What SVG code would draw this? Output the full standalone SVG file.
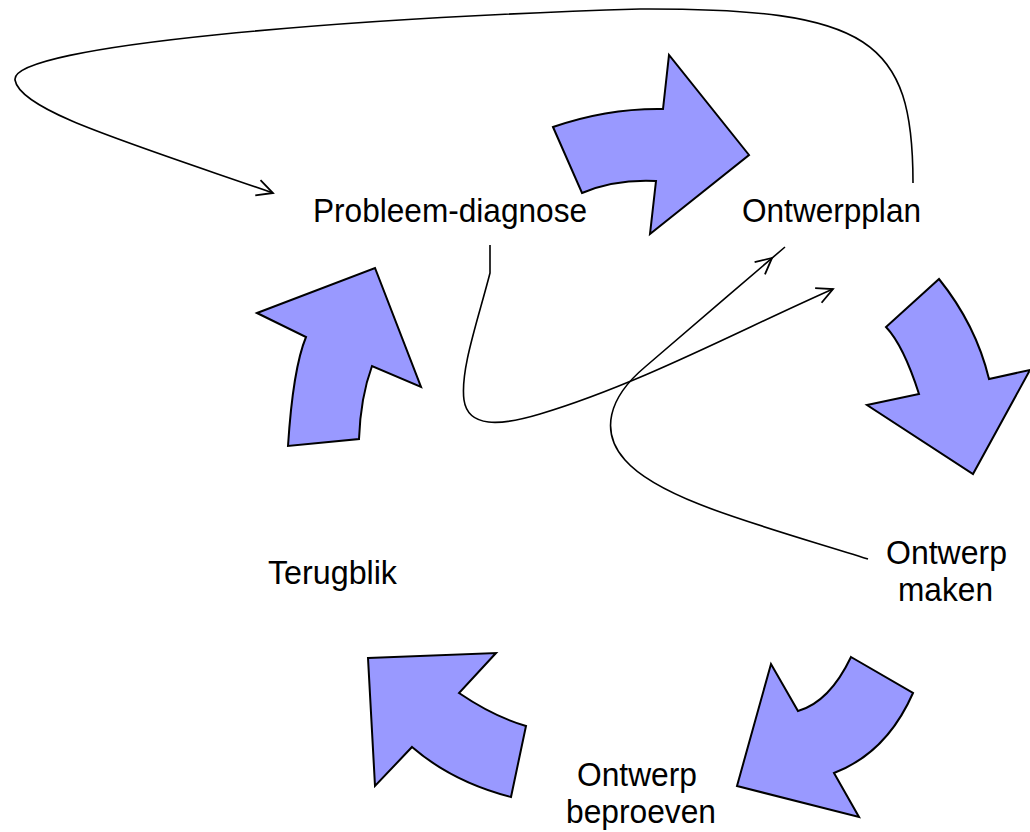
<svg xmlns="http://www.w3.org/2000/svg" width="1030" height="832" viewBox="0 0 1030 832">
<style>
.arr{fill:#9999ff;stroke:#000;stroke-width:2;stroke-linejoin:miter}
.con{fill:none;stroke:#000;stroke-width:1.6}
.lbl{font-family:"Liberation Sans",Arial,sans-serif;font-size:34px;fill:#000;text-anchor:middle}
</style>
<defs>
<marker id="open" markerUnits="userSpaceOnUse" markerWidth="40" markerHeight="40" refX="16" refY="8" orient="auto" overflow="visible">
<path d="M0,0 L16,8 L0,16" fill="none" stroke="#000" stroke-width="1.8"/>
</marker>
<marker id="openback" markerUnits="userSpaceOnUse" markerWidth="40" markerHeight="40" refX="33" refY="8" orient="auto" overflow="visible">
<path d="M0,0 L16,8 L0,16" fill="none" stroke="#000" stroke-width="1.8"/>
</marker>
</defs>
<rect width="1030" height="832" fill="#fff"/>
<g id="shapes">
<path id="arrow-top" class="arr" d="M553,127 Q608,108 663,109 L669,55 L749,155 L650,234 L656,181 Q615,179 582,193 Z"/>
<path id="arrow-right" class="arr" d="M939,279 Q976,325 989,379 L1030,370 L973,474 L867,405 L919,394 Q903.5,345.5 886,327 Z"/>
<path id="arrow-bottomright" class="arr" d="M851,657 L913,693 Q886.5,753 834,773 L859,817 L737,786 L771,664 L798,711 Q829.5,702 851,657 Z"/>
<path id="arrow-bottomleft" class="arr" d="M368,658 L496,653 L459,693 Q493.5,716.5 526,726 L511,797 Q452.5,782 412,747 L375,786 Z"/>
<path id="arrow-left" class="arr" d="M257,313 L375,268 L421,387 L372,366 Q360.5,397.5 359,439 L288,446 Q293,368.5 306,337 Z"/>
</g>
<g id="connectors">
<path class="con" d="M913,183 C913,40 870,8 640,9 C350,18 10,45 15,80 C20,110 120,140 273,193" marker-end="url(#open)"/>
<path class="con" d="M490,245 L490,273 C478,320 460,370 464,400 C468,428 500,426 540,414 C640,384 740,330 833,289" marker-end="url(#open)"/>
<path class="con" d="M868,559 C760,525 660,500 625,460 C600,432 608,398 645,367 C685,333 740,285 785,247" marker-end="url(#openback)"/>
</g>
<g id="node-probleemdiagnose"><text class="lbl" x="450" y="222" textLength="274" lengthAdjust="spacingAndGlyphs">Probleem-diagnose</text></g>
<g id="node-ontwerpplan"><text class="lbl" x="831.5" y="222" textLength="179" lengthAdjust="spacingAndGlyphs">Ontwerpplan</text></g>
<g id="node-terugblik"><text class="lbl" x="332.5" y="584" textLength="129" lengthAdjust="spacingAndGlyphs">Terugblik</text></g>
<g id="node-ontwerpmaken"><text class="lbl" x="946.5" y="564" textLength="121" lengthAdjust="spacingAndGlyphs">Ontwerp</text><text class="lbl" x="945.5" y="601" textLength="95" lengthAdjust="spacingAndGlyphs">maken</text></g>
<g id="node-ontwerpbeproeven"><text class="lbl" x="637" y="786" textLength="120" lengthAdjust="spacingAndGlyphs">Ontwerp</text><text class="lbl" x="641" y="823" textLength="150" lengthAdjust="spacingAndGlyphs">beproeven</text></g>
</svg>
